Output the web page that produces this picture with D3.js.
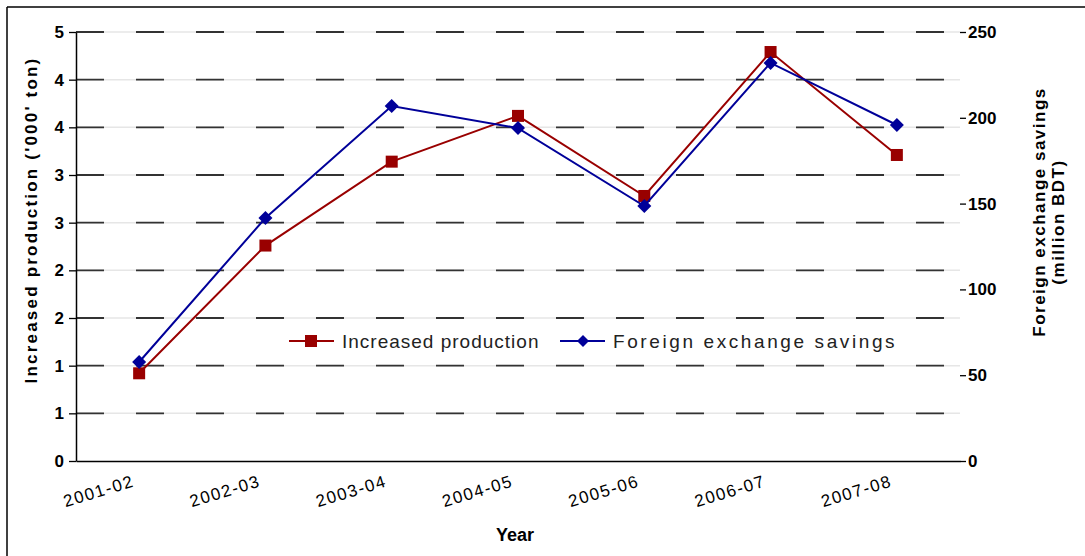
<!DOCTYPE html>
<html>
<head>
<meta charset="utf-8">
<script src="https://cdn.jsdelivr.net/npm/d3@7"></script>
<style>
  body { margin: 0; background: #fff; }
  svg text { font-family: "Liberation Sans", Arial, sans-serif; }
</style>
</head>
<body>
<div id="chart"></div>
<script>
// data
var years = ["2001-02", "2002-03", "2003-04", "2004-05", "2005-06", "2006-07", "2007-08"];
var production = [0.92, 2.26, 3.14, 3.62, 2.78, 4.29, 3.21];   // '000 ton, left axis
var savings = [57.7, 141.6, 206.9, 194, 148.6, 232, 195.8];    // million BDT, right axis
var leftTicks = [0, 0.5, 1, 1.5, 2, 2.5, 3, 3.5, 4, 4.5];
var leftTickLabels = ["0", "1", "1", "2", "2", "3", "3", "4", "4", "5"];
var rightTicks = [0, 50, 100, 150, 200, 250];

var W = 1085, H = 556;
var margin = {top: 32, right: 125, bottom: 95, left: 76};
var red = "#990000", blue = "#000099";

var svg = d3.select("#chart").append("svg")
    .attr("width", W)
    .attr("height", H);

// outer frame (only top and left edges show)
svg.append("line").attr("x1", 7).attr("y1", 7).attr("x2", W).attr("y2", 7)
    .attr("stroke", "#000").attr("stroke-width", 1.5);
svg.append("line").attr("x1", 7).attr("y1", 7).attr("x2", 7).attr("y2", H)
    .attr("stroke", "#000").attr("stroke-width", 1.5);

var x = d3.scaleBand()
    .domain(years)
    .range([margin.left, W - margin.right]);

var yL = d3.scaleLinear()
    .domain([0, 4.5])
    .range([H - margin.bottom, margin.top]);

var yR = d3.scaleLinear()
    .domain([0, 250])
    .range([H - margin.bottom, margin.top]);

// dashed gridlines
var grid = svg.append("g").attr("class", "grid");
leftTicks.slice(1).forEach(function(d) {
  grid.append("line")
    .attr("x1", margin.left).attr("x2", W - margin.right)
    .attr("y1", yL(d)).attr("y2", yL(d))
    .attr("stroke", "#e6e6e6").attr("stroke-width", 1.5);
  grid.append("line")
    .attr("x1", margin.left).attr("x2", W - margin.right)
    .attr("y1", yL(d)).attr("y2", yL(d))
    .attr("stroke", "#333").attr("stroke-width", 1.8)
    .attr("stroke-dasharray", "28,32");
});

// left axis
var gL = svg.append("g")
    .attr("transform", "translate(" + margin.left + ",0)")
    .call(d3.axisLeft(yL).tickValues(leftTicks).tickSize(7).tickSizeOuter(0)
      .tickFormat(function(d, i) { return leftTickLabels[i]; }));
gL.select(".domain").attr("stroke-width", 1.5);
gL.selectAll(".tick line").attr("stroke-width", 1.3);
gL.selectAll(".tick text").attr("font-size", 17).attr("font-weight", "bold")
    .attr("font-family", "Liberation Sans, Arial, sans-serif").attr("x", -12);

// right axis, no spine
var gR = svg.append("g")
    .attr("transform", "translate(" + (W - margin.right) + ",0)")
    .call(d3.axisRight(yR).tickValues(rightTicks).tickSize(6).tickSizeOuter(0));
gR.select(".domain").remove();
gR.selectAll(".tick line").attr("stroke-width", 1.3);
gR.selectAll(".tick text").attr("font-size", 17).attr("font-weight", "bold")
    .attr("font-family", "Liberation Sans, Arial, sans-serif").attr("x", 8);

// x axis
var gX = svg.append("g")
    .attr("transform", "translate(0," + (H - margin.bottom) + ")")
    .call(d3.axisBottom(x).tickSize(0).tickSizeOuter(0));
gX.select(".domain").attr("stroke-width", 1.5);
gX.selectAll(".tick text")
    .attr("font-size", 17)
    .attr("font-family", "Liberation Sans, Arial, sans-serif")
    .attr("letter-spacing", 1.5)
    .attr("text-anchor", "end")
    .attr("dy", 0)
    .attr("y", 0)
    .attr("transform", "translate(-4,25) rotate(-17)");

// axis titles
svg.append("text")
    .attr("transform", "translate(37,220) rotate(-90)")
    .attr("text-anchor", "middle")
    .attr("font-size", 17).attr("font-weight", "bold").attr("letter-spacing", 2.2)
    .text("Increased production ('000' ton)");
svg.append("text")
    .attr("transform", "translate(1045,212) rotate(-90)")
    .attr("text-anchor", "middle")
    .attr("font-size", 17).attr("font-weight", "bold").attr("letter-spacing", 1.5)
    .text("Foreign exchange savings");
svg.append("text")
    .attr("transform", "translate(1064,222) rotate(-90)")
    .attr("text-anchor", "middle")
    .attr("font-size", 17).attr("font-weight", "bold").attr("letter-spacing", 1.5)
    .text("(million BDT)");
svg.append("text")
    .attr("x", 515).attr("y", 541)
    .attr("text-anchor", "middle")
    .attr("font-size", 18).attr("font-weight", "bold")
    .text("Year");

var cx = function(d, i) { return x(years[i]) + x.bandwidth() / 2; };

// production line (left axis)
svg.append("path")
    .datum(production)
    .attr("fill", "none")
    .attr("stroke", red)
    .attr("stroke-width", 2)
    .attr("d", d3.line().x(cx).y(function(d) { return yL(d); }));
svg.selectAll(".sq")
    .data(production)
  .enter().append("rect")
    .attr("class", "sq")
    .attr("x", function(d, i) { return cx(d, i) - 6; })
    .attr("y", function(d) { return yL(d) - 6; })
    .attr("width", 12).attr("height", 12)
    .attr("fill", red);

// savings line (right axis)
svg.append("path")
    .datum(savings)
    .attr("fill", "none")
    .attr("stroke", blue)
    .attr("stroke-width", 2)
    .attr("d", d3.line().x(cx).y(function(d) { return yR(d); }));
svg.selectAll(".dm")
    .data(savings)
  .enter().append("path")
    .attr("class", "dm")
    .attr("transform", function(d, i) { return "translate(" + cx(d, i) + "," + yR(d) + ")"; })
    .attr("d", "M0,-7L7,0L0,7L-7,0Z")
    .attr("fill", blue);

// legend
var leg = svg.append("g").attr("transform", "translate(0,341)");
leg.append("line").attr("x1", 289).attr("x2", 334).attr("stroke", red).attr("stroke-width", 2);
leg.append("rect").attr("x", 305).attr("y", -6).attr("width", 12).attr("height", 12).attr("fill", red);
leg.append("text").attr("x", 342).attr("y", 7)
    .attr("font-size", 19).attr("letter-spacing", 1).attr("fill", "#222")
    .text("Increased production");
leg.append("line").attr("x1", 560).attr("x2", 605).attr("stroke", blue).attr("stroke-width", 2);
leg.append("path").attr("transform", "translate(583,0)").attr("d", "M0,-6L6,0L0,6L-6,0Z").attr("fill", blue);
leg.append("text").attr("x", 613).attr("y", 7)
    .attr("font-size", 19).attr("letter-spacing", 2.6).attr("fill", "#222")
    .text("Foreign exchange savings");
</script>
</body>
</html>
